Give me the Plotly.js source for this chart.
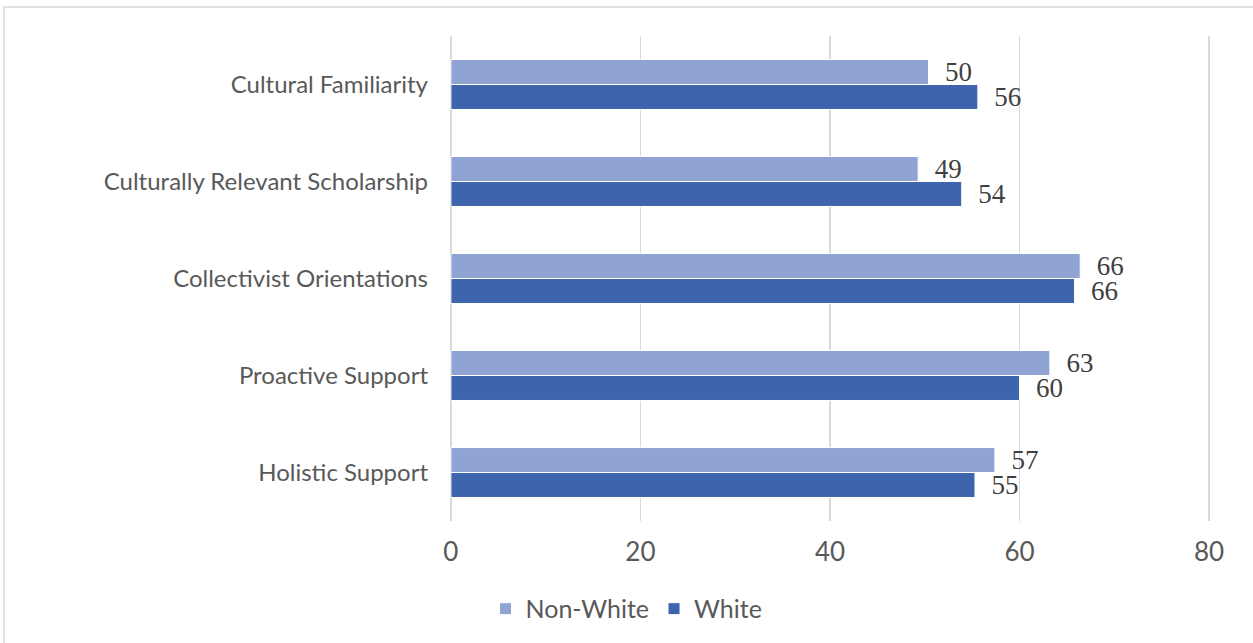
<!DOCTYPE html>
<html>
<head>
<meta charset="utf-8">
<script src="https://cdn.plot.ly/plotly-3.0.1.min.js"></script>
<style>html,body{margin:0;padding:0;background:#fff;}#chart{width:1253px;height:643px;}</style>
</head>
<body>
<div id="chart"></div>
<script>
const categories = ["Cultural Familiarity", "Culturally Relevant Scholarship", "Collectivist Orientations", "Proactive Support", "Holistic Support"];
const nonWhite = [50.4, 49.3, 66.4, 63.2, 57.4];
const white = [55.6, 53.9, 65.8, 60.0, 55.3];
const seriesNames = ["Non-White", "White"];
const xTicks = [0, 20, 40, 60, 80];

const labelFont = {family: "Liberation Serif, serif", size: 27, color: "#404040"};
const mk = (name, vals, color) => ({
  type: "bar", orientation: "h", name: name,
  y: categories, x: vals,
  marker: {color: color, line: {color: "#ffffff", width: 1}},
  texttemplate: "\u2002%{x:.0f}", textposition: "outside",
  textfont: labelFont, constraintext: "none", cliponaxis: false,
  hoverinfo: "skip"
});
const data = [mk(seriesNames[0], nonWhite, "#8FA4D3"), mk(seriesNames[1], white, "#3D64AC")];

const layout = {
  width: 1253, height: 643,
  margin: {l: 449, r: 42, t: 36, b: 122},
  paper_bgcolor: "#ffffff", plot_bgcolor: "#ffffff",
  barmode: "group", bargap: 0.485, bargroupgap: 0,
  font: {family: "Lato, sans-serif", color: "#595959"},
  xaxis: {
    range: [-0.2, 80.2], tickvals: xTicks, ticktext: xTicks.map(String),
    showgrid: true, gridcolor: "#D9D9D9", gridwidth: 1.5,
    zeroline: true, zerolinecolor: "#D9D9D9", zerolinewidth: 1.5,
    showline: false, ticks: "", ticklabelstandoff: 13,
    tickfont: {family: "Lato, sans-serif", size: 26, color: "#595959"}
  },
  yaxis: {
    autorange: "reversed", showgrid: false, zeroline: false, showline: false,
    ticks: "", ticklabelstandoff: 20,
    tickfont: {family: "Lato, sans-serif", size: 24, color: "#595959"}
  },
  showlegend: true,
  legend: {
    orientation: "h", xref: "container", yref: "container",
    x: 0.5, xanchor: "center", y: 0.053, yanchor: "middle",
    traceorder: "normal",
    font: {family: "Lato, sans-serif", size: 25, color: "#595959"}
  },
  shapes: [{
    type: "rect", xref: "paper", yref: "paper",
    x0: -0.584, x1: 2, y0: -1, y1: 1.0598,
    line: {color: "#D9D9D9", width: 1.5}, fillcolor: "rgba(0,0,0,0)", layer: "below"
  }]
};
Plotly.newPlot("chart", data, layout, {staticPlot: true});
</script>
</body>
</html>
